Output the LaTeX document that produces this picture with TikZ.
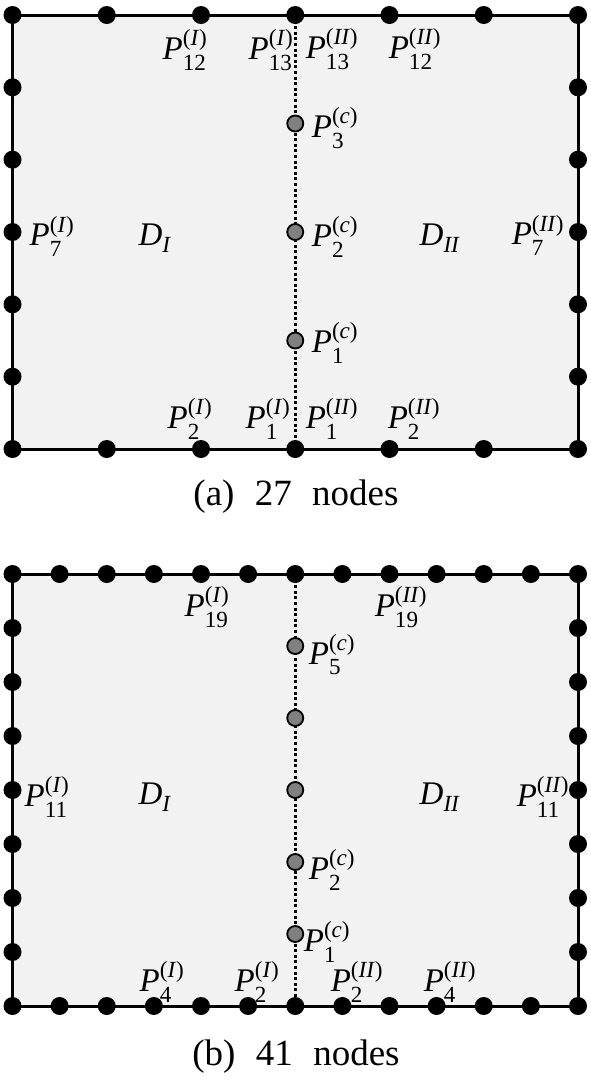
\documentclass[tikz,border=0pt]{standalone}
\usepackage{amsmath}
\usepackage{fontspec}
\setmainfont{Liberation Serif}
\definecolor{panelfill}{HTML}{F2F2F2}
\definecolor{dotgray}{HTML}{808080}
\newcommand{\Plab}[2]{$\textit{P}^{\text{(\textit{#2})}}_{\text{#1}}$}
\newcommand{\Dlab}[1]{$\textit{D}_{\text{\textit{#1}}}$}
\begin{document}
\begin{tikzpicture}[x=1pt,y=-1pt,
  bdot/.style={circle,fill=black,inner sep=0pt,minimum size=18pt},
  gdot/.style={circle,fill=dotgray,draw=black,line width=1.8pt,inner sep=0pt,minimum size=16pt},
  border/.style={line width=3pt,line join=miter},
  iface/.style={line width=3.2pt,dash pattern=on 3pt off 2.6pt},
  panel/.style={fill=panelfill},
  lab/.style={font=\fontsize{33}{36}\selectfont,inner sep=0pt},
  caption/.style={font=\fontsize{37}{40}\selectfont,inner sep=0pt}]
\useasboundingbox (0,0) rectangle (591,1080);
% ---------- panel (a) ----------
\coordinate (aTL) at (12.5,15);
\coordinate (aTR) at (578,15);
\coordinate (aBR) at (578,449);
\coordinate (aBL) at (12.5,449);
\coordinate (aTM) at (295.25,15);
\coordinate (aBM) at (295.25,449);
\fill[panel] (aTL) rectangle (aBR);
\draw[border] (aTL) -- (aTR) -- (aBR) -- (aBL) -- cycle;
\draw[iface] (aTM) -- (aBM);
\foreach \k in {0,...,6}{
  \node[bdot] (at\k) at ({12.5+\k*94.25},15) {};
  \node[bdot] (ab\k) at ({12.5+\k*94.25},449) {};
}
\foreach \k in {1,...,5}{
  \node[bdot] (al\k) at (12.5,{15+\k*72.333}) {};
  \node[bdot] (ar\k) at (578,{15+\k*72.333}) {};
}
\foreach \k in {1,2,3}{
  \node[gdot] (ac\k) at (295.25,{449-\k*108.5}) {};
}
\node[lab] (aP12I) at (185,50) {\Plab{12}{I}};
\node[lab] (aP13I) at (271,50) {\Plab{13}{I}};
\node[lab] (aP13II) at (332,49) {\Plab{13}{II}};
\node[lab] (aP12II) at (415,49) {\Plab{12}{II}};
\node[lab] (aP3c) at (335,128) {\Plab{3}{c}};
\node[lab] (aP7I) at (52,236) {\Plab{7}{I}};
\node[lab] (aDI) at (155,238) {\Dlab{I}};
\node[lab] (aP2c) at (335,237) {\Plab{2}{c}};
\node[lab] (aDII) at (440,238) {\Dlab{II}};
\node[lab] (aP7II) at (538,235) {\Plab{7}{II}};
\node[lab] (aP1c) at (335,343) {\Plab{1}{c}};
\node[lab] (aP2I) at (190,419) {\Plab{2}{I}};
\node[lab] (aP1I) at (268,419) {\Plab{1}{I}};
\node[lab] (aP1II) at (332,419) {\Plab{1}{II}};
\node[lab] (aP2II) at (414,419) {\Plab{2}{II}};
\node[caption] (acap) at (296,497) {(a)\hspace{0.55em}27\hspace{0.55em}nodes};
% ---------- panel (b) ----------
\coordinate (bTL) at (12.5,574);
\coordinate (bTR) at (578,574);
\coordinate (bBR) at (578,1006);
\coordinate (bBL) at (12.5,1006);
\coordinate (bTM) at (295.25,574);
\coordinate (bBM) at (295.25,1006);
\fill[panel] (bTL) rectangle (bBR);
\draw[border] (bTL) -- (bTR) -- (bBR) -- (bBL) -- cycle;
\draw[iface] (bTM) -- (bBM);
\foreach \k in {0,...,12}{
  \node[bdot] (bt\k) at ({12.5+\k*47.125},574) {};
  \node[bdot] (bb\k) at ({12.5+\k*47.125},1006) {};
}
\foreach \k in {1,...,7}{
  \node[bdot] (bl\k) at (12.5,{574+\k*54}) {};
  \node[bdot] (br\k) at (578,{574+\k*54}) {};
}
\foreach \k in {1,...,5}{
  \node[gdot] (bc\k) at (295.25,{1006-\k*72}) {};
}
\node[lab] (bP19I) at (207,607) {\Plab{19}{I}};
\node[lab] (bP19II) at (401,607) {\Plab{19}{II}};
\node[lab] (bP5c) at (332,655) {\Plab{5}{c}};
\node[lab] (bP11I) at (47,797) {\Plab{11}{I}};
\node[lab] (bDI) at (155,797) {\Dlab{I}};
\node[lab] (bDII) at (440,797) {\Dlab{II}};
\node[lab] (bP11II) at (543,797) {\Plab{11}{II}};
\node[lab] (bP2c) at (332,870) {\Plab{2}{c}};
\node[lab] (bP1c) at (327,942) {\Plab{1}{c}};
\node[lab] (bP4I) at (162,982) {\Plab{4}{I}};
\node[lab] (bP2I) at (257,982) {\Plab{2}{I}};
\node[lab] (bP2II) at (357,982) {\Plab{2}{II}};
\node[lab] (bP4II) at (450,982) {\Plab{4}{II}};
\node[caption] (bcap) at (296,1057) {(b)\hspace{0.55em}41\hspace{0.55em}nodes};
\end{tikzpicture}
\end{document}
